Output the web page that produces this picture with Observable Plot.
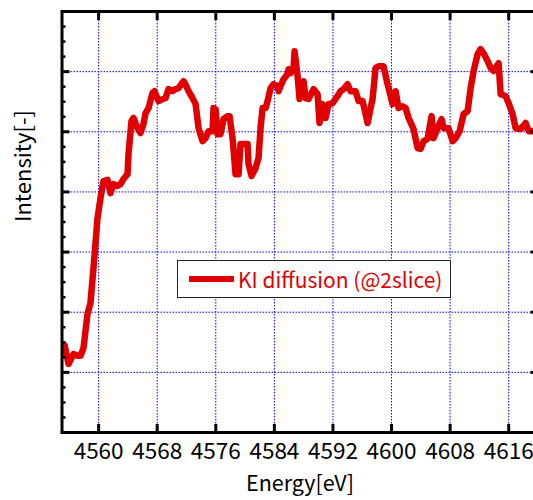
<!DOCTYPE html>
<html>
<head>
<meta charset="utf-8">
<script src="https://cdn.jsdelivr.net/npm/d3@7"></script>
<script src="https://cdn.jsdelivr.net/npm/@observablehq/plot@0.6"></script>
<style>
  html, body { margin: 0; padding: 0; background: #fff; overflow: hidden; width: 533px; height: 500px; }
  #wrap { position: relative; width: 540px; height: 500px; font-family: "Noto Sans CJK JP", "Noto Sans", sans-serif; }
  #legend { position: absolute; left: 177px; top: 260px; width: 272px; height: 36px; border: 1.5px solid #222; background: #fff; box-sizing: content-box; }
  #legend .swatch { position: absolute; left: 11px; top: 15px; width: 45px; height: 6px; background: #e00000; }
  #legend .label { position: absolute; left: 60px; top: 0; line-height: 36px; font-size: 21px; color: #e00000; white-space: nowrap; }
</style>
</head>
<body>
<div id="wrap">
  <div id="chart"></div>
  <div id="legend"><div class="swatch"></div><div class="label">KI diffusion (@2slice)</div></div>
</div>
<script>
const seriesName = "KI diffusion (@2slice)";
const energy = [
  4555.00,4555.34,4555.89,4556.57,4557.12,4557.53,4557.94,4558.48,4558.89,4559.30,
  4559.85,4560.26,4560.67,4561.22,4561.62,4562.03,4562.58,4562.99,4563.40,4563.95,
  4564.08,4564.49,4564.77,4565.31,4565.72,4566.13,4566.41,4566.82,4567.36,4567.63,
  4568.18,4568.73,4569.14,4569.55,4570.09,4570.50,4570.91,4571.60,4571.87,4572.28,
  4572.83,4573.24,4573.65,4574.19,4574.60,4575.01,4575.56,4575.69,4575.97,4576.24,
  4576.65,4577.06,4577.61,4577.88,4578.29,4578.70,4579.11,4579.38,4579.79,4580.34,
  4580.47,4580.88,4581.43,4581.84,4582.11,4582.39,4582.80,4583.07,4583.48,4583.89,
  4584.44,4584.57,4584.85,4585.26,4585.80,4585.94,4586.21,4586.62,4586.76,4587.17,
  4587.44,4587.99,4588.26,4588.67,4589.35,4589.90,4590.17,4590.58,4590.99,4591.40,
  4591.95,4592.63,4593.04,4593.45,4594.00,4594.41,4595.09,4595.50,4596.05,4596.73,
  4597.14,4597.41,4597.82,4598.23,4598.91,4599.46,4599.87,4600.14,4600.55,4600.96,
  4601.51,4601.92,4602.33,4603.01,4603.56,4603.97,4604.38,4604.92,4605.47,4605.74,
  4606.29,4606.84,4607.11,4607.79,4608.34,4608.75,4609.30,4609.84,4610.39,4610.80,
  4611.21,4611.75,4612.16,4612.57,4613.12,4613.53,4613.94,4614.62,4614.90,4615.58,
  4615.99,4616.53,4616.94,4617.63,4618.31,4618.72,4619.27,4619.95
];
const intensity = [
  0.271,0.291,0.228,0.261,0.255,0.255,0.281,0.394,0.431,0.547,
  0.713,0.780,0.836,0.840,0.796,0.826,0.820,0.826,0.843,0.859,
  0.926,1.036,1.046,1.012,0.996,1.026,1.062,1.079,1.129,1.135,
  1.102,1.109,1.112,1.142,1.135,1.142,1.145,1.168,1.158,1.135,
  1.112,1.092,1.012,0.969,0.979,1.002,1.002,1.079,1.075,0.992,
  0.992,1.042,1.052,1.052,0.979,0.859,0.859,0.959,0.959,0.959,
  0.893,0.853,0.879,0.913,1.012,1.079,1.079,1.102,1.145,1.158,
  1.152,1.135,1.152,1.175,1.192,1.208,1.195,1.212,1.268,1.185,
  1.109,1.168,1.112,1.109,1.142,1.125,1.029,1.092,1.046,1.092,
  1.095,1.119,1.135,1.142,1.158,1.135,1.135,1.102,1.102,1.029,
  1.079,1.109,1.212,1.218,1.218,1.158,1.119,1.092,1.135,1.079,
  1.085,1.079,1.046,1.009,0.946,0.943,0.969,0.976,1.052,0.979,
  1.012,1.042,1.012,1.012,0.969,0.979,1.002,1.059,1.069,1.145,
  1.202,1.258,1.275,1.261,1.235,1.212,1.202,1.228,1.125,1.119,
  1.095,1.059,1.012,1.009,1.029,1.002,1.002,1.009
];
const xTicks = [4560, 4568, 4576, 4584, 4592, 4600, 4608, 4616];
const yMajor = [0.2, 0.4, 0.6, 0.8, 1.0, 1.2];
const yMinor = d3.range(1, 28).map(i => i / 20).filter(v => Math.abs(v * 5 - Math.round(v * 5)) > 1e-6);
const xLabel = "Energy[eV]";
const yLabel = "Intensity[-]";

const rows = energy.map((e, i) => ({energy: e, intensity: intensity[i]}));
const red = "#e00000";
const blue = "#0000ff";
const noText = () => "";

const chart = Plot.plot({
  width: 540,
  height: 500,
  marginLeft: 61.5,
  marginRight: 2.5,
  marginTop: 11,
  marginBottom: 68,
  style: {fontFamily: '"Noto Sans CJK JP", "Noto Sans", sans-serif', background: "#fff", color: "#000", overflow: "visible"},
  x: {domain: [4555, 4620]},
  y: {domain: [0, 1.4]},
  marks: [
    Plot.gridX(xTicks, {stroke: blue, strokeOpacity: 1, strokeWidth: 1, strokeDasharray: "1.5,1.5"}),
    Plot.gridY(yMajor, {stroke: blue, strokeOpacity: 1, strokeWidth: 1, strokeDasharray: "1.5,1.5"}),
    Plot.line(rows, {x: "energy", y: "intensity", stroke: red, strokeWidth: 6.5, strokeLinejoin: "round", clip: true}),
    Plot.frame({stroke: "#000", strokeWidth: 3}),
    Plot.axisX(xTicks, {anchor: "bottom", tickSize: -8, strokeWidth: 3, tickFormat: noText, label: null}),
    Plot.axisX(xTicks, {anchor: "top", tickSize: -8, strokeWidth: 3, tickFormat: noText, label: null}),
    Plot.axisX(xTicks, {anchor: "bottom", tickSize: 0, tickPadding: 11, fontSize: 22.5, label: null, tickFormat: d => String(d)}),
    Plot.axisY(yMajor, {anchor: "left", tickSize: -8, strokeWidth: 3, tickFormat: noText, label: null}),
    Plot.axisY(yMinor, {anchor: "left", tickSize: -4, strokeWidth: 2.5, tickFormat: noText, label: null}),
    Plot.axisY(yMajor, {anchor: "right", tickSize: -8, strokeWidth: 3, tickFormat: noText, label: null}),
    Plot.text([xLabel], {text: d => d, frameAnchor: "bottom", dy: 58, fontSize: 21.5, fill: "#000"}),
    Plot.text([yLabel], {text: d => d, frameAnchor: "left", dx: -38, rotate: -90, fontSize: 22, fill: "#000"})
  ]
});
document.getElementById("chart").appendChild(chart);
</script>
</body>
</html>
